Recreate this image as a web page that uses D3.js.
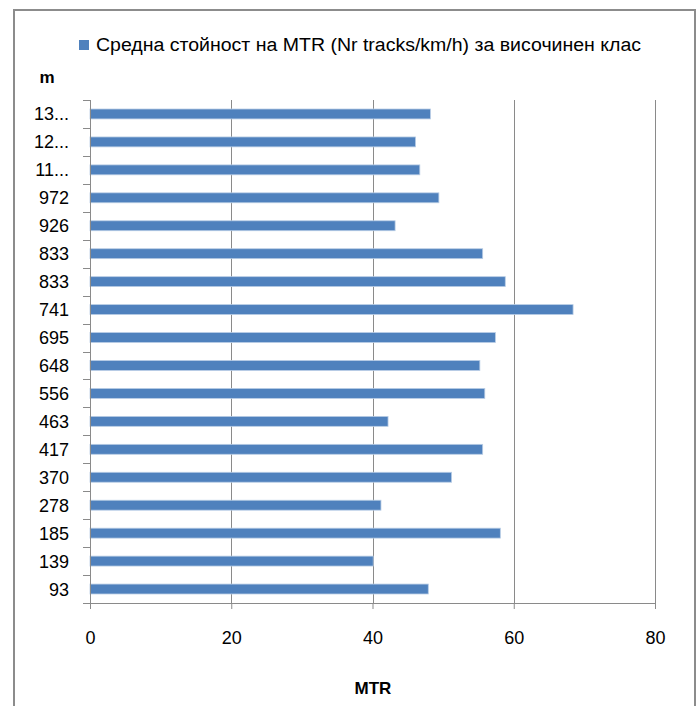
<!DOCTYPE html>
<html>
<head>
<meta charset="utf-8">
<script src="https://cdn.jsdelivr.net/npm/d3@7/dist/d3.min.js"></script>
<style>
  html, body { margin: 0; padding: 0; background: #fff; }
  svg text { font-family: "Liberation Sans", Arial, sans-serif; fill: #000; }
</style>
</head>
<body>
<svg id="chart" width="696" height="706"></svg>
<script>
// Altitude class labels (bottom to top) and mean MTR per class
const categories = ["93", "139", "185", "278", "370", "417", "463", "556", "648",
                    "695", "741", "833", "833", "926", "972", "11...", "12...", "13..."];
const mtrValues = [47.9, 40.1, 58.1, 41.2, 51.2, 55.6, 42.2, 55.9, 55.2,
                   57.4, 68.4, 58.8, 55.6, 43.2, 49.4, 46.7, 46.1, 48.2];
const xTicks = [0, 20, 40, 60, 80];
const seriesName = "Средна стойност на MTR (Nr tracks/km/h) за височинен клас";
const xTitle = "MTR";
const yTitle = "m";

const svg = d3.select("#chart");
const plot = { left: 90, right: 655, top: 100, bottom: 603 };

// Outer frame
svg.append("rect")
  .attr("x", 14).attr("y", 10)
  .attr("width", 681).attr("height", 710)
  .attr("fill", "none").attr("stroke", "#8c8c8c").attr("stroke-width", 2);

const x = d3.scaleLinear().domain([0, 80]).range([plot.left, plot.right]);
const y = d3.scaleBand()
  .domain(d3.range(categories.length))
  .range([plot.bottom, plot.top])
  .paddingInner(0.645).paddingOuter(0.3225);

// Vertical gridlines
svg.append("g").selectAll("line")
  .data(xTicks.slice(1))
  .join("line")
  .attr("x1", d => Math.round(x(d)) + 0.5).attr("x2", d => Math.round(x(d)) + 0.5)
  .attr("y1", plot.top).attr("y2", plot.bottom)
  .attr("stroke", "#8a8a8a").attr("stroke-width", 1);

// Bars
svg.append("g").selectAll("rect")
  .data(mtrValues)
  .join("rect")
  .attr("x", x(0))
  .attr("y", (d, i) => y(i))
  .attr("width", d => x(d) - x(0))
  .attr("height", y.bandwidth())
  .attr("fill", "#4f81bd")
  .attr("stroke", "#b9cde5").attr("stroke-width", 0.8);

// X axis
const xAxis = d3.axisBottom(x).tickValues(xTicks).tickSize(6).tickPadding(22).tickFormat(d3.format("d"));
const gx = svg.append("g").attr("transform", `translate(0,${plot.bottom})`).call(xAxis);
gx.select(".domain").attr("stroke", "#8a8a8a");
gx.selectAll(".tick line").attr("stroke", "#8a8a8a");
gx.selectAll("text").attr("font-size", 18).attr("fill", "#000");

// Y axis: ticks sit on category boundaries
const boundaries = d3.range(categories.length + 1)
  .map(i => plot.bottom - i * (plot.bottom - plot.top) / categories.length);
const gy = svg.append("g");
gy.append("line")
  .attr("x1", plot.left + 0.5).attr("x2", plot.left + 0.5)
  .attr("y1", plot.top).attr("y2", plot.bottom)
  .attr("stroke", "#8a8a8a");
gy.selectAll("line.tick")
  .data(boundaries)
  .join("line").attr("class", "tick")
  .attr("x1", plot.left - 7).attr("x2", plot.left)
  .attr("y1", d => Math.round(d) + 0.5).attr("y2", d => Math.round(d) + 0.5)
  .attr("stroke", "#8a8a8a");
gy.selectAll("text")
  .data(categories)
  .join("text")
  .attr("x", plot.left - 21)
  .attr("y", (d, i) => y(i) + y.bandwidth() / 2)
  .attr("dy", "0.36em")
  .attr("text-anchor", "end")
  .attr("font-size", 18)
  .text(d => d);

// Axis titles
svg.append("text")
  .attr("x", 47).attr("y", 83)
  .attr("text-anchor", "middle")
  .attr("font-size", 17).attr("font-weight", "bold")
  .text(yTitle);
svg.append("text")
  .attr("x", 373).attr("y", 694)
  .attr("text-anchor", "middle")
  .attr("font-size", 17).attr("font-weight", "bold")
  .text(xTitle);

// Legend
const legend = svg.append("g");
legend.append("rect")
  .attr("x", 79).attr("y", 40).attr("width", 10).attr("height", 10)
  .attr("fill", "#4f81bd");
legend.append("text")
  .attr("x", 96).attr("y", 51)
  .attr("font-size", 18)
  .attr("textLength", 545).attr("lengthAdjust", "spacingAndGlyphs")
  .text(seriesName);
</script>
</body>
</html>
